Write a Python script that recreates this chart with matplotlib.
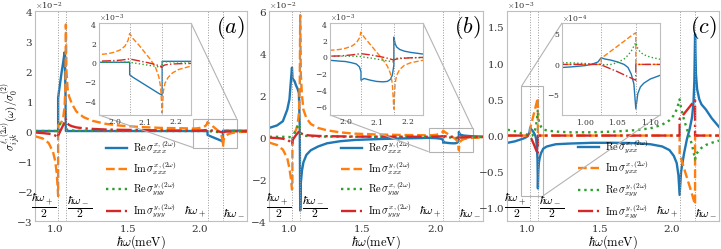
import matplotlib
matplotlib.use('Agg')
import matplotlib.pyplot as plt
from matplotlib.ticker import MultipleLocator
from mpl_toolkits.axes_grid1.inset_locator import mark_inset

plt.rcParams['mathtext.fontset'] = 'cm'
plt.rcParams['font.family'] = 'serif'
plt.rcParams['font.serif'] = ['DejaVu Serif']
plt.rcParams['axes.formatter.use_mathtext'] = True

# resonance energies (meV)
hw_plus = 2.05
hw_minus = 2.156

# energy grid for panels (a) and (b)
E_ab = [0.87, 0.92, 0.96, 0.99, 1.005, 1.015, 1.022,
        1.025, 1.025, 1.03, 1.04, 1.05, 1.06, 1.069, 1.075, 1.078, 1.078,
        1.082, 1.09, 1.10, 1.12, 1.15, 1.2, 1.26, 1.35, 1.45, 1.6, 1.75, 1.9,
        1.95, 1.98, 2.0, 2.02, 2.035, 2.045, 2.05, 2.05,
        2.06, 2.08, 2.1, 2.12, 2.135, 2.145, 2.151, 2.156, 2.156,
        2.16, 2.165, 2.175, 2.19, 2.21, 2.25, 2.32]

# panel (a), units of 1e-3
re_xxx_a = [0, 0, 0, 0, 0, 0, 0,
            0, 11, 13, 16.5, 20, 23, 26.2, 14, 0, 0,
            0, 0, 0, 0, 0, 0, 0, 0, 0, 0, 0, 0,
            0, 0, 0, 0, 0, 0, 0, -1.3,
            -1.55, -1.95, -2.35, -2.75, -3.05, -3.25, -3.35, -3.45, 0.1,
            0.1, 0.1, 0.1, 0.1, 0.1, 0.1, 0.1]
im_xxx_a = [-1.8, -2.5, -4.0, -7.0, -10.0, -14.0, -19.0,
            -21.7, 2.0, 2.2, 2.6, 3.2, 4.5, 8.0, 15.0, 35.5, 35.5,
            20.0, 14.0, 11.5, 9.0, 6.5, 4.6, 3.4, 2.4, 1.8, 1.3, 1.0, 0.9,
            0.8, 0.9, 1.05, 1.3, 1.7, 2.3, 3.0, 3.0,
            2.5, 1.8, 1.0, 0.2, -0.6, -1.5, -2.6, -5.3, -5.3,
            -3.0, -2.2, -1.6, -1.1, -0.75, -0.4, -0.2]
re_yyy_a = [0, 0, 0, 0, 0, 0, 0,
            -0.5, -0.5, 1.0, 2.5, 3.0, 2.8, 2.3, 2.0, 1.5, 1.0,
            0.6, 0.4, 0.3, 0.2, 0.1, 0.05, 0.05, 0.03, 0.02, 0.02, 0.01, 0.0,
            0, 0, 0, 0, 0, 0, 0, 0,
            -0.05, -0.15, -0.25, -0.35, -0.42, -0.48, -0.52, -0.55, 0.05,
            0.05, 0.05, 0.05, 0.04, 0.04, 0.03, 0.03]
im_yyy_a = [-0.5, -0.7, -0.9, -1.2, -1.5, -1.8, -2.1,
            -2.2, -1.5, -1.0, 0.0, 1.0, 2.0, 3.2, 4.0, 4.2, 4.0,
            3.2, 2.5, 2.0, 1.6, 1.2, 0.9, 0.7, 0.5, 0.4, 0.3, 0.2, 0.12,
            0.12, 0.15, 0.18, 0.22, 0.28, 0.33, 0.35, 0.35,
            0.28, 0.15, 0.02, -0.12, -0.25, -0.35, -0.42, -0.5, -0.5,
            -0.35, -0.28, -0.22, -0.18, -0.15, -0.12, -0.1]

# panel (b), units of 1e-3
re_xxx_b = [4.4, 5.5, 7.5, 13.0, 18.0, 27.0, 33.0,
            29.0, 28.0, 27.5, 26.5, 24.5, 23.0, 21.0, 5.0, -35.0, -35.0,
            -22.0, -16.0, -12.0, -8.5, -6.3, -4.5, -3.0, -2.0, -1.4, -1.0, -0.7, -0.5,
            -0.4, -0.5, -0.55, -0.7, -0.85, -1.2, -1.8, -2.8,
            -2.6, -2.8, -2.95, -3.0, -2.95, -2.7, -2.2, -1.0, 2.4,
            1.6, 1.2, 0.9, 0.7, 0.55, 0.35, 0.2]
im_xxx_b = [-2.7, -3.8, -6.0, -10.0, -15.0, -20.0, -25.0,
            -24.0, -3.0, 0.0, 2.0, 3.5, 6.0, 11.0, 25.0, 58.0, 58.0,
            30.0, 20.0, 13.0, 9.0, 6.2, 4.3, 3.2, 2.2, 1.6, 1.2, 1.0, 0.85,
            0.8, 0.9, 1.05, 1.3, 1.7, 2.3, 3.0, 3.0,
            2.4, 1.5, 0.6, -0.3, -1.1, -2.0, -3.2, -6.3, -6.3,
            -3.2, -2.2, -1.5, -1.0, -0.7, -0.4, -0.25]
re_yyy_b = [0.1, 0.1, 0.1, 0.0, 0.0, -0.3, -1.0,
            -1.5, -1.0, 0.5, 2.0, 3.5, 5.0, 6.0, 5.0, 3.0, 2.0,
            1.5, 1.0, 0.7, 0.5, 0.35, 0.25, 0.2, 0.15, 0.12, 0.1, 0.1, 0.1,
            0.1, 0.1, 0.1, 0.1, 0.08, 0.06, 0.05, 0.05,
            -0.02, -0.12, -0.25, -0.38, -0.47, -0.53, -0.57, -0.6, -0.2,
            -0.18, -0.16, -0.14, -0.12, -0.1, -0.08, -0.05]
im_yyy_b = [-0.3, -0.5, -0.8, -1.3, -2.0, -2.8, -3.5,
            -3.5, -2.0, -1.0, 0.0, 1.0, 1.8, 2.6, 3.0, 3.0, 2.5,
            2.0, 1.5, 1.2, 0.9, 0.7, 0.5, 0.4, 0.3, 0.2, 0.15, 0.12, 0.1,
            0.1, 0.12, 0.18, 0.25, 0.32, 0.38, 0.4, 0.4,
            0.35, 0.25, 0.12, -0.02, -0.15, -0.25, -0.32, -0.4, -0.4,
            -0.3, -0.25, -0.2, -0.15, -0.1, -0.05, -0.03]

# energy grid for panel (c)
E_c = [0.87, 0.92, 0.965, 0.98, 1.0, 1.01, 1.02,
       1.025, 1.025, 1.03, 1.04, 1.05, 1.06, 1.066, 1.071, 1.075, 1.078, 1.078,
       1.081, 1.085, 1.09, 1.1, 1.115, 1.14, 1.2, 1.3, 1.45, 1.6, 1.75, 1.85,
       1.93, 1.98, 2.01, 2.03, 2.042, 2.05, 2.05,
       2.06, 2.08, 2.1, 2.12, 2.135, 2.145, 2.151, 2.156, 2.156,
       2.162, 2.17, 2.185, 2.2, 2.23, 2.27, 2.32]

# panel (c), units of 1e-4
re_yxx_c = [-1.0, -0.8, -0.5, -0.4, -0.2, 0.0, 0.4,
            1.1, 1.1, 0.9, 0.7, 0.4, 0.0, -0.5, -1.6, -3.2, -7.3, -7.3,
            -4.8, -3.7, -3.1, -2.4, -1.8, -1.5, -1.2, -1.1, -1.0, -1.0, -1.05, -1.2,
            -1.5, -2.0, -2.8, -3.8, -5.5, -8.2, -8.2,
            -5.0, -2.5, -0.5, 1.0, 2.5, 4.5, 7.5, 14.0, 14.0,
            8.5, 6.4, 5.0, 4.3, 3.6, 2.4, 1.2]
im_yxx_c = [0, 0, 0, 0, 0, 0, 0,
            0, 1.0, 1.4, 2.2, 3.0, 3.8, 4.3, 4.7, 5.0, 5.2, 0,
            0, 0, 0, 0, 0, 0, 0, 0, 0, 0, 0, 0,
            0, 0, 0, 0, 0, 0, -2.5,
            -3.2, -4.5, -5.8, -7.1, -8.1, -8.8, -9.2, -9.5, 0,
            0, 0, 0, 0, 0, 0, 0]
re_xyy_c = [0.8, 0.6, 0.3, 0.25, 0.15, 0.1, 0.03,
            0.0, 0.0, -0.05, 0.0, 0.3, 0.9, 1.5, 2.2, 3.0, 3.6, 3.6,
            2.6, 2.0, 1.6, 1.2, 0.85, 0.7, 0.55, 0.45, 0.45, 0.55, 0.75, 1.0,
            1.5, 2.1, 2.8, 3.6, 4.4, 5.0, 5.0,
            3.8, 2.2, 0.9, -0.3, -1.3, -2.2, -2.8, -3.3, -3.3,
            -2.8, -2.4, -2.0, -1.7, -1.3, -1.0, -0.7]
im_xyy_c = [0, 0, 0, 0, 0, 0, 0,
            0, -0.1, -0.3, -0.75, -1.2, -1.7, -2.0, -2.25, -2.45, -2.6, 0,
            0, 0, 0, 0, 0, 0, 0, 0, 0, 0, 0, 0,
            0, 0, 0, 0, 0, 0, 2.3,
            2.5, 3.0, 3.5, 4.0, 4.4, 4.6, 4.8, 4.9, 0,
            0, 0, 0, 0, 0, 0, 0]

labels_a = [r'$\mathrm{Re}\,\sigma^{x,(2\omega)}_{xxx}$', r'$\mathrm{Im}\,\sigma^{x,(2\omega)}_{xxx}$',
            r'$\mathrm{Re}\,\sigma^{y,(2\omega)}_{yyy}$', r'$\mathrm{Im}\,\sigma^{y,(2\omega)}_{yyy}$']
labels_b = [r'$\mathrm{Re}\,\sigma^{y,(2\omega)}_{xxx}$', r'$\mathrm{Im}\,\sigma^{y,(2\omega)}_{xxx}$',
            r'$\mathrm{Re}\,\sigma^{x,(2\omega)}_{yyy}$', r'$\mathrm{Im}\,\sigma^{x,(2\omega)}_{yyy}$']
labels_c = [r'$\mathrm{Re}\,\sigma^{x,(2\omega)}_{yxx}$', r'$\mathrm{Im}\,\sigma^{x,(2\omega)}_{yxx}$',
            r'$\mathrm{Re}\,\sigma^{y,(2\omega)}_{xyy}$', r'$\mathrm{Im}\,\sigma^{y,(2\omega)}_{xyy}$']

colors = ['#1f77b4', '#ff7f0e', '#2ca02c', '#d62728']
styles = ['-', '--', ':', '-.']

bottom, height = 0.1124, 0.8434
panels = [
    dict(E=E_ab, ys=[re_xxx_a, im_xxx_a, re_yyy_a, im_yyy_a], unit=1e-3, labels=labels_a, tag='$(a)$',
         pos=[0.0485, bottom, 0.294, height], ylim=(-3e-2, 4e-2), ystep=1e-2,
         ipos=[0.1373, 0.5382, 0.1276, 0.3695], ixlim=(1.95, 2.25), iylim=(-5.5e-3, 4.1e-3),
         ixstep=0.1, iystep=2e-3, locs=(1, 3)),
    dict(E=E_ab, ys=[re_xxx_b, im_xxx_b, re_yyy_b, im_yyy_b], unit=1e-3, labels=labels_b, tag='$(b)$',
         pos=[0.3731, bottom, 0.2968, height], ylim=(-4e-2, 6e-2), ystep=2e-2,
         ipos=[0.4577, 0.5382, 0.129, 0.3695], ixlim=(1.95, 2.25), iylim=(-7e-3, 4.1e-3),
         ixstep=0.1, iystep=2e-3, locs=(1, 3)),
    dict(E=E_c, ys=[re_yxx_c, im_yxx_c, re_xyy_c, im_xyy_c], unit=1e-4, labels=labels_c, tag='$(c)$',
         pos=[0.7032, bottom, 0.294, height], ylim=(-1.18e-3, 1.72e-3), ystep=0.5e-3,
         ipos=[0.7795, 0.5382, 0.1359, 0.3695], ixlim=(0.965, 1.115), iylim=(-8.3e-4, 6.8e-4),
         ixstep=0.05, iystep=5e-4, locs=(2, 4)),
]

fig = plt.figure(figsize=(7.21, 2.49), dpi=100)


def style_axes(ax, fs, pad, ofs):
    for s in ax.spines.values():
        s.set_color('0.75')
        s.set_linewidth(0.8)
    ax.tick_params(length=0, labelsize=fs, colors='0.2', pad=pad)
    ax.ticklabel_format(axis='y', style='sci', scilimits=(0, 0))
    ax.yaxis.get_offset_text().set_fontsize(ofs)
    ax.yaxis.OFFSETTEXTPAD = 1


for i, p in enumerate(panels):
    ax = fig.add_axes(p['pos'])
    ys = [[v * p['unit'] for v in y] for y in p['ys']]
    for y, c, ls, lab in zip(ys, colors, styles, p['labels']):
        ax.plot(p['E'], y, color=c, ls=ls, lw=1.7, label=lab)
    for e in [hw_plus / 2, hw_minus / 2, hw_plus, hw_minus]:
        ax.axvline(e, color='0.6', ls=':', lw=0.7)
    ax.set_xlim(0.866, 2.32)
    ax.set_ylim(p['ylim'])
    ax.xaxis.set_major_locator(MultipleLocator(0.5))
    ax.yaxis.set_major_locator(MultipleLocator(p['ystep']))
    style_axes(ax, 7.5, 1.5, 6)
    ax.set_xlabel(r'$\hbar\omega(\mathrm{meV})$', fontsize=9)
    ax.xaxis.set_label_coords(0.5, -0.06)
    if i == 0:
        ax.set_ylabel(r'$\sigma^{\ell,(2\omega)}_{ijk}(\omega)/\sigma_0^{(2)}$', fontsize=8)
        ax.yaxis.set_label_coords(-0.057, 0.5)
    ax.text(0.99, 0.985, p['tag'], transform=ax.transAxes, ha='right', va='top', fontsize=16)

    tr = ax.get_xaxis_transform()
    ax.annotate(r'$\dfrac{\hbar\omega_+}{2}$', xy=(hw_plus / 2, 0), xycoords=tr, xytext=(-1, 1),
                textcoords='offset points', ha='right', va='bottom', fontsize=8.5)
    ax.annotate(r'$\dfrac{\hbar\omega_-}{2}$', xy=(hw_minus / 2, 0), xycoords=tr, xytext=(1, 1),
                textcoords='offset points', ha='left', va='bottom', fontsize=8.5)
    ax.annotate(r'$\hbar\omega_+$', xy=(hw_plus, 0), xycoords=tr, xytext=(-1, 2),
                textcoords='offset points', ha='right', va='bottom', fontsize=8.5)
    ax.annotate(r'$\hbar\omega_-$', xy=(hw_minus, 0), xycoords=tr, xytext=(0.3, 2),
                textcoords='offset points', ha='left', va='bottom', fontsize=8.5)

    ax.legend(loc='center left', bbox_to_anchor=(0.335, 0.2), frameon=False, fontsize=7.5,
              handlelength=2.0, handletextpad=0.6, labelspacing=0.3, borderpad=0, borderaxespad=0)

    axi = fig.add_axes(p['ipos'])
    for y, c, ls in zip(ys, colors, styles):
        axi.plot(p['E'], y, color=c, ls=ls, lw=1.0)
    for e in [hw_plus / 2, hw_minus / 2, hw_plus, hw_minus]:
        axi.axvline(e, color='0.6', ls=':', lw=0.7)
    axi.set_xlim(p['ixlim'])
    axi.set_ylim(p['iylim'])
    axi.xaxis.set_major_locator(MultipleLocator(p['ixstep']))
    axi.yaxis.set_major_locator(MultipleLocator(p['iystep']))
    style_axes(axi, 5.5, 1.5, 5.5)
    mark_inset(ax, axi, loc1=p['locs'][0], loc2=p['locs'][1], fc='none', ec='0.7', lw=0.8)

fig.savefig('out.png', dpi=100)
